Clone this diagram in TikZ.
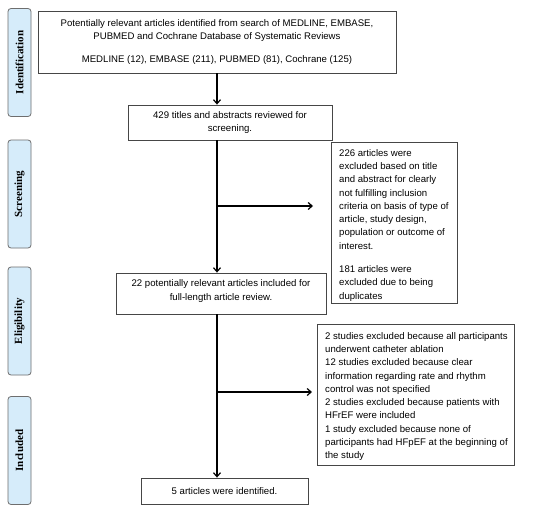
\documentclass[tikz,border=0pt]{standalone}
\usepackage{fontspec}
\setmainfont{Liberation Sans}
\newfontfamily\labelfont{Liberation Serif}
\usetikzlibrary{arrows.meta}
\definecolor{stagefill}{RGB}{214,236,250}
\definecolor{stageborder}{RGB}{110,110,110}
\definecolor{boxborder}{RGB}{70,70,70}
\begin{document}
\begin{tikzpicture}[x=1pt,y=-1pt,
  stage/.style={draw=stageborder,fill=stagefill,rounded corners=3pt,line width=0.8pt,
    rotate=90,minimum width=108pt,minimum height=23pt,inner sep=0pt,
    font=\labelfont\bfseries\fontsize{11}{13}\selectfont},
  flowbox/.style={draw=boxborder,line width=0.8pt,inner sep=0pt,
    font=\fontsize{9.6}{13.3}\selectfont,align=center},
  plainbox/.style={draw=boxborder,line width=0.8pt,inner sep=0pt},
  boxtext/.style={inner sep=0pt,font=\fontsize{9.6}{13.3}\selectfont},
  flow/.style={-{Straight Barb[length=4pt,width=7pt,line width=1.2pt]},line width=1.2pt}]
\useasboundingbox (0,0) rectangle (550,514);
\fill[white] (0,0) rectangle (550,514);

\node[stage] (s1) at (19.5,62.5) {Identification};
\node[stage] (s2) at (19.5,194) {Screening};
\node[stage] (s3) at (19.5,321) {Eligibility};
\node[stage] (s4) at (19.5,450.5) {Included};

\node[flowbox,minimum width=358pt,minimum height=62pt] (top) at (217,42)
  {Potentially relevant articles identified from search of MEDLINE, EMBASE,\\
   PUBMED and Cochrane Database of Systematic Reviews\\[10pt]
   MEDLINE (12), EMBASE (211), PUBMED (81), Cochrane (125)};

\node[plainbox,minimum width=204pt,minimum height=35pt] (b2) at (230,122.5) {};
\node[boxtext,align=center] (b2t) at (230,122.5)
  {429 titles and abstracts reviewed for\\ screening.};

\node[plainbox,minimum width=210pt,minimum height=41pt] (b3) at (221,293.5) {};
\node[boxtext,align=center] (b3t) at (221,291)
  {22 potentially relevant articles included for\\ full-length article review.};

\node[flowbox,minimum width=167pt,minimum height=26pt] (b4) at (224.5,491)
  {5 articles were identified.};

\node[plainbox,minimum width=126pt,minimum height=161pt] (r1) at (394,222.5) {};
\node[boxtext,align=left,anchor=north west] (r1t) at (339,149)
  {226 articles were\\ excluded based on title\\ and abstract for clearly\\ not fulfilling inclusion\\
   criteria on basis of type of\\ article, study design,\\ population or outcome of\\ interest.\\[10pt]
   181 articles were\\ excluded due to being\\ duplicates};

\node[plainbox,minimum width=197pt,minimum height=141pt] (r2) at (415.5,394.5) {};
\node[boxtext,align=left,anchor=north west] (r2t) at (325,332)
  {2 studies excluded because all participants\\ underwent catheter ablation\\
   12 studies excluded because clear\\ information regarding rate and rhythm\\
   control was not specified\\ 2 studies excluded because patients with\\
   HFrEF were included\\ 1 study excluded because none of\\
   participants had HFpEF at the beginning of\\ the study};

\coordinate (j1) at (217,206);
\coordinate (e1) at (313,206);
\coordinate (j2) at (217,392);
\coordinate (e2) at (312,392);

\draw[flow] (top.south) -- (top.south |- b2.north);
\draw[flow] (b2.south -| top.south) -- (top.south |- b3.north);
\draw[flow] (b3.south -| top.south) -- (top.south |- b4.north);
\draw[flow] (j1) -- (e1);
\draw[flow] (j2) -- (e2);
\end{tikzpicture}
\end{document}
